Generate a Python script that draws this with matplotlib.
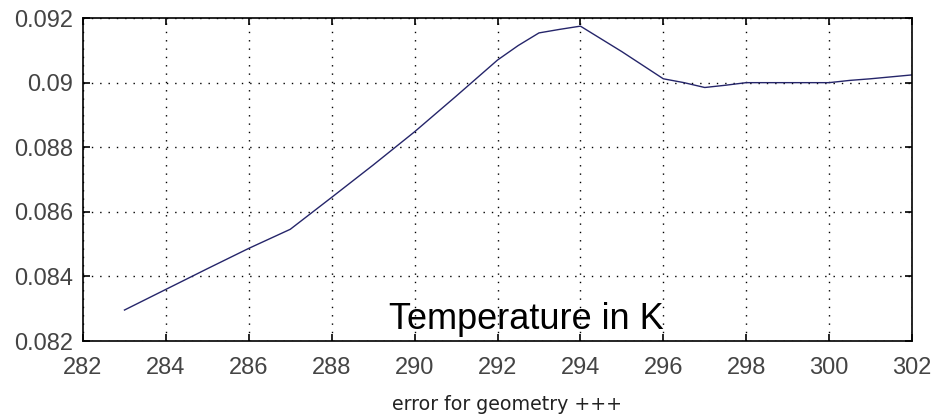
import matplotlib
matplotlib.use('Agg')
import matplotlib.pyplot as plt

# temperature (K) and error values
temperature = [283, 284, 285, 286, 287, 288, 289, 290, 291, 292, 292.5, 293, 293.5, 294,
               295, 296, 296.5, 297, 297.5, 298, 299, 300, 300.5, 301, 301.5, 302]
error = [0.08296, 0.08360, 0.08424, 0.08487, 0.08546, 0.08645, 0.08745, 0.08848,
         0.08958, 0.09070, 0.09115, 0.09154, 0.09165, 0.09175,
         0.09096, 0.09012, 0.09000, 0.08985, 0.08992, 0.09000, 0.09000, 0.09000,
         0.09007, 0.09012, 0.09018, 0.09024]

xticks = [282, 284, 286, 288, 290, 292, 294, 296, 298, 300, 302]
yticks = [0.082, 0.084, 0.086, 0.088, 0.09, 0.092]
yticklabels = ['0.082', '0.084', '0.086', '0.088', '0.09', '0.092']

fig = plt.figure(figsize=(9.35, 4.2), dpi=100)
ax = fig.add_axes([0.0888, 0.188, 0.8866, 0.769])

ax.plot(temperature, error, color='#25256a', lw=1.0)

ax.set_xlim(282, 302)
ax.set_ylim(0.082, 0.092)
ax.set_xticks(xticks)
ax.set_yticks(yticks)
ax.set_yticklabels(yticklabels)
ax.tick_params(direction='in', top=True, right=True, length=5, width=1.2,
               labelsize=17, labelcolor='#444444')
ax.tick_params(axis='x', pad=11.5)
ax.tick_params(axis='y', pad=7)
for lab in ax.get_xticklabels() + ax.get_yticklabels():
    lab.set_family('Liberation Sans')
ax.grid(True, color='black', linestyle=(0, (1, 5)), linewidth=1.0)
for s in ax.spines.values():
    s.set_linewidth(1.2)

ax.set_xlabel('error for geometry +++', fontsize=13.7, color='#222222', va='center')
ax.xaxis.set_label_coords(0.512, -0.198)
ax.text(292.7, 0.08237, 'Temperature in K', fontsize=26, family='Liberation Sans',
        ha='center', va='baseline', color='black')

fig.savefig('out.png', dpi=100)
